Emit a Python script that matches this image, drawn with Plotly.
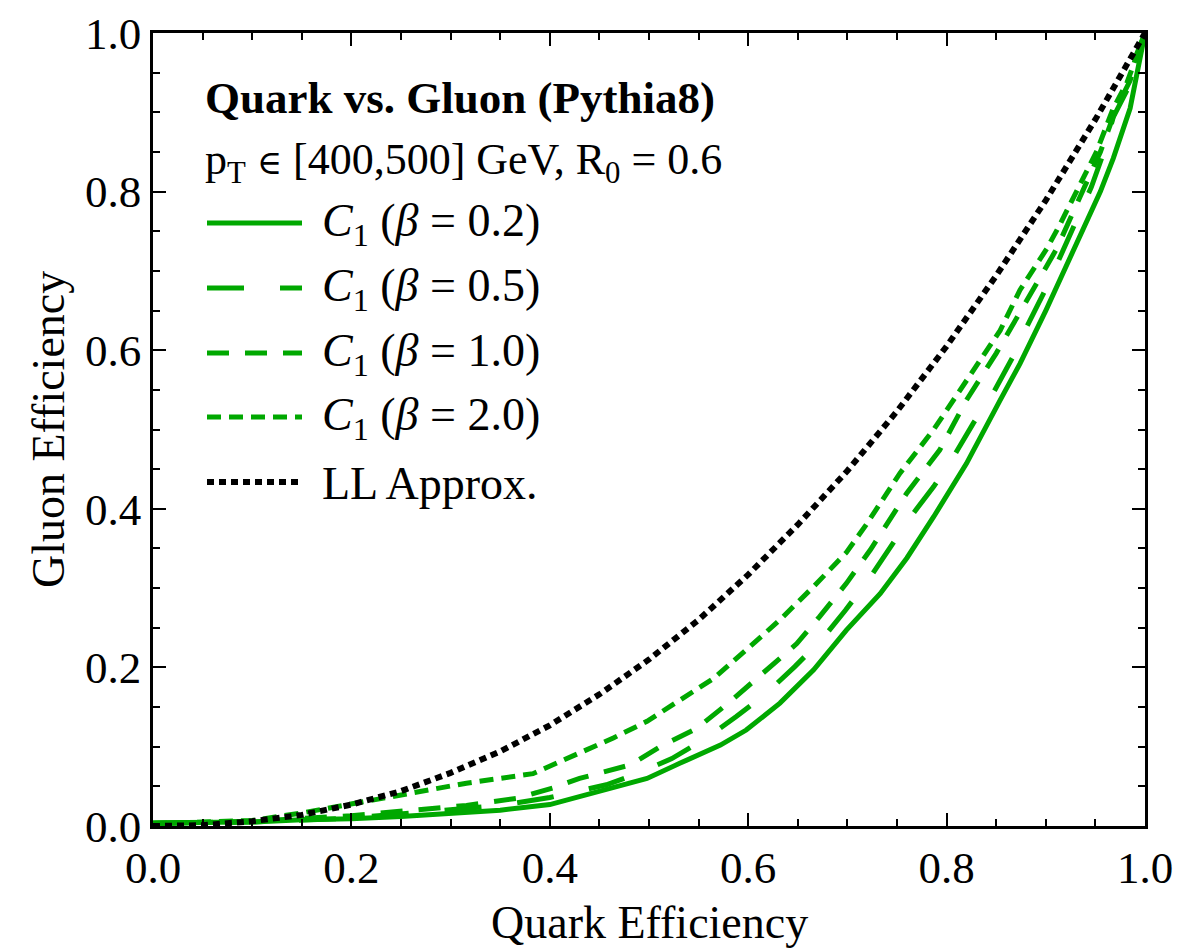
import plotly.graph_objects as go

# ---- data ----
x_b02 = [0, 0.05, 0.1, 0.15, 0.2, 0.25, 0.3, 0.35, 0.4, 0.43, 0.464, 0.498, 0.531, 0.572, 0.598,
         0.632, 0.666, 0.699, 0.733, 0.76, 0.787, 0.82, 0.854, 0.874, 0.9, 0.928, 0.955, 0.968, 0.985, 1.0]
y_b02 = [0.004, 0.004, 0.005, 0.008, 0.009, 0.012, 0.016, 0.020, 0.027, 0.037, 0.048, 0.060, 0.079, 0.102, 0.121,
         0.155, 0.197, 0.247, 0.293, 0.338, 0.39, 0.457, 0.537, 0.583, 0.65, 0.725, 0.80, 0.842, 0.905, 1.0]

x_b05 = [0, 0.1, 0.2, 0.25, 0.3, 0.35, 0.4, 0.444, 0.457, 0.488, 0.523, 0.558, 0.588, 0.618, 0.647, 0.674,
         0.698, 0.721, 0.743, 0.765, 0.787, 0.808, 0.827, 0.847, 0.867, 0.881, 0.901, 0.914, 0.931, 0.946,
         0.958, 0.968, 0.982, 0.988, 1.0]
y_b05 = [0.003, 0.005, 0.010, 0.015, 0.020, 0.026, 0.036, 0.048, 0.052, 0.066, 0.085, 0.111, 0.138, 0.167, 0.201, 0.235,
         0.272, 0.310, 0.352, 0.392, 0.428, 0.468, 0.508, 0.546, 0.592, 0.630, 0.680, 0.718, 0.764, 0.806,
         0.848, 0.894, 0.928, 0.962, 1.0]

x_b10 = [0, 0.1, 0.2, 0.249, 0.316, 0.367, 0.403, 0.43, 0.481, 0.514, 0.548, 0.582, 0.615, 0.649, 0.672,
         0.699, 0.723, 0.76, 0.793, 0.82, 0.85, 0.871, 0.911, 0.934, 0.955, 0.971, 0.985, 1.0]
y_b10 = [0.003, 0.006, 0.013, 0.018, 0.026, 0.035, 0.048, 0.060, 0.077, 0.102, 0.123, 0.157, 0.193, 0.230, 0.264,
         0.306, 0.348, 0.42, 0.474, 0.537, 0.596, 0.642, 0.728, 0.792, 0.85, 0.905, 0.94, 1.0]

x_b20 = [0, 0.1, 0.148, 0.182, 0.249, 0.316, 0.383, 0.43, 0.464, 0.498, 0.531, 0.565, 0.598, 0.632, 0.666,
         0.699, 0.719, 0.753, 0.787, 0.82, 0.854, 0.874, 0.901, 0.914, 0.934, 0.951, 0.968, 0.982, 1.0]
y_b20 = [0.003, 0.007, 0.016, 0.024, 0.039, 0.054, 0.066, 0.092, 0.111, 0.132, 0.159, 0.186, 0.222, 0.260, 0.302,
         0.345, 0.38, 0.445, 0.50, 0.562, 0.625, 0.676, 0.728, 0.758, 0.808, 0.85, 0.905, 0.938, 1.0]

x_ll = [0, 0.05, 0.1, 0.15, 0.2, 0.25, 0.3, 0.35, 0.4, 0.45, 0.5, 0.55, 0.6, 0.65, 0.7, 0.75, 0.8, 0.85, 0.9, 0.95, 1.0]
y_ll = [0, 0.001, 0.006, 0.014, 0.027, 0.044, 0.067, 0.094, 0.127, 0.166, 0.21, 0.26, 0.317, 0.38, 0.448, 0.523,
        0.605, 0.694, 0.789, 0.891, 1.0]

names = ["<i>C</i><sub>1</sub> (<i>β</i> = 0.2)", "<i>C</i><sub>1</sub> (<i>β</i> = 0.5)",
         "<i>C</i><sub>1</sub> (<i>β</i> = 1.0)", "<i>C</i><sub>1</sub> (<i>β</i> = 2.0)", "LL Approx."]
title_line1 = "<b>Quark vs. Gluon (Pythia8)</b>"
title_line2 = ("p<sub>T</sub> <span style=\"font-family:'DejaVu Serif';font-size:34px\">∈</span> "
               "[400,500] GeV, R<sub>0</sub> = 0.6")
x_title = "Quark Efficiency"
y_title = "Gluon Efficiency"
tick_vals = [0, 0.2, 0.4, 0.6, 0.8, 1.0]
tick_text = ["0.0", "0.2", "0.4", "0.6", "0.8", "1.0"]

GREEN = "rgb(0,168,0)"
FONT = "Liberation Serif, Times New Roman, serif"
styles = [
    dict(color=GREEN, width=5, dash="solid"),
    dict(color=GREEN, width=5, dash="37px,36px"),
    dict(color=GREEN, width=5, dash="22px,16px"),
    dict(color=GREEN, width=5, dash="14px,8px"),
    dict(color="black", width=6, dash="7px,5px"),
]
series = [(x_b02, y_b02), (x_b05, y_b05), (x_b10, y_b10), (x_b20, y_b20), (x_ll, y_ll)]

fig = go.Figure()
for (xs, ys), st, nm in zip(series, styles, names):
    fig.add_trace(go.Scatter(x=xs, y=ys, mode="lines", line=st, name=nm, showlegend=False))

# page body has an 8px margin; figure is sized so the plot area lands where the reference has it
OFF = 8
FW, FH = 1203 - OFF, 948 - OFF
L, R, T, B = 153, 1145, 33, 826   # plot area in page pixels
W, H = R - L, B - T
def px(xp):
    return (xp - L) / W
def py(yp):
    return (B - yp) / H

# legend drawn manually (long line samples as in reference)
rows = [223, 288, 353, 417, 482]
for st, nm, yr in zip(styles, names, rows):
    fig.add_shape(type="line", xref="paper", yref="paper", x0=px(207), x1=px(302), y0=py(yr), y1=py(yr),
                  line=st)
    fig.add_annotation(xref="paper", yref="paper", x=px(320), y=py(yr + 1), text=nm, showarrow=False,
                       xanchor="left", yanchor="middle", font=dict(family=FONT, size=46, color="black"))
fig.add_annotation(xref="paper", yref="paper", x=px(203), y=py(98), text=title_line1, showarrow=False,
                   xanchor="left", yanchor="middle", font=dict(family=FONT, size=45, color="black"))
fig.add_annotation(xref="paper", yref="paper", x=px(203), y=py(163), text=title_line2, showarrow=False,
                   xanchor="left", yanchor="middle", font=dict(family=FONT, size=44, color="black"))
# axis titles
fig.add_annotation(xref="paper", yref="paper", x=px(649), y=py(922), text=x_title, showarrow=False,
                   xanchor="center", yanchor="middle", font=dict(family=FONT, size=46, color="black"))
fig.add_annotation(xref="paper", yref="paper", x=px(48), y=py(430), text=y_title, showarrow=False, textangle=-90,
                   xanchor="center", yanchor="middle", font=dict(family=FONT, size=46, color="black"))

axis_common = dict(
    range=[0, 1], tickvals=tick_vals, ticktext=tick_text, ticks="inside", ticklen=13, tickwidth=2,
    tickcolor="black", showline=True, linecolor="black", linewidth=2.5, mirror="allticks",
    showgrid=False, zeroline=False, tickfont=dict(family=FONT, size=45, color="black"),
    minor=dict(ticks="inside", ticklen=7, tickwidth=2, tickcolor="black", dtick=0.05, showgrid=False),
)
fig.update_xaxes(**axis_common)
fig.update_yaxes(**axis_common)
fig.update_layout(
    width=FW, height=FH,
    margin=dict(l=L - OFF, r=FW - (R - OFF), t=T - OFF, b=FH - (B - OFF), autoexpand=False),
    paper_bgcolor="white", plot_bgcolor="white", showlegend=False,
)
fig.write_html("out.html")
